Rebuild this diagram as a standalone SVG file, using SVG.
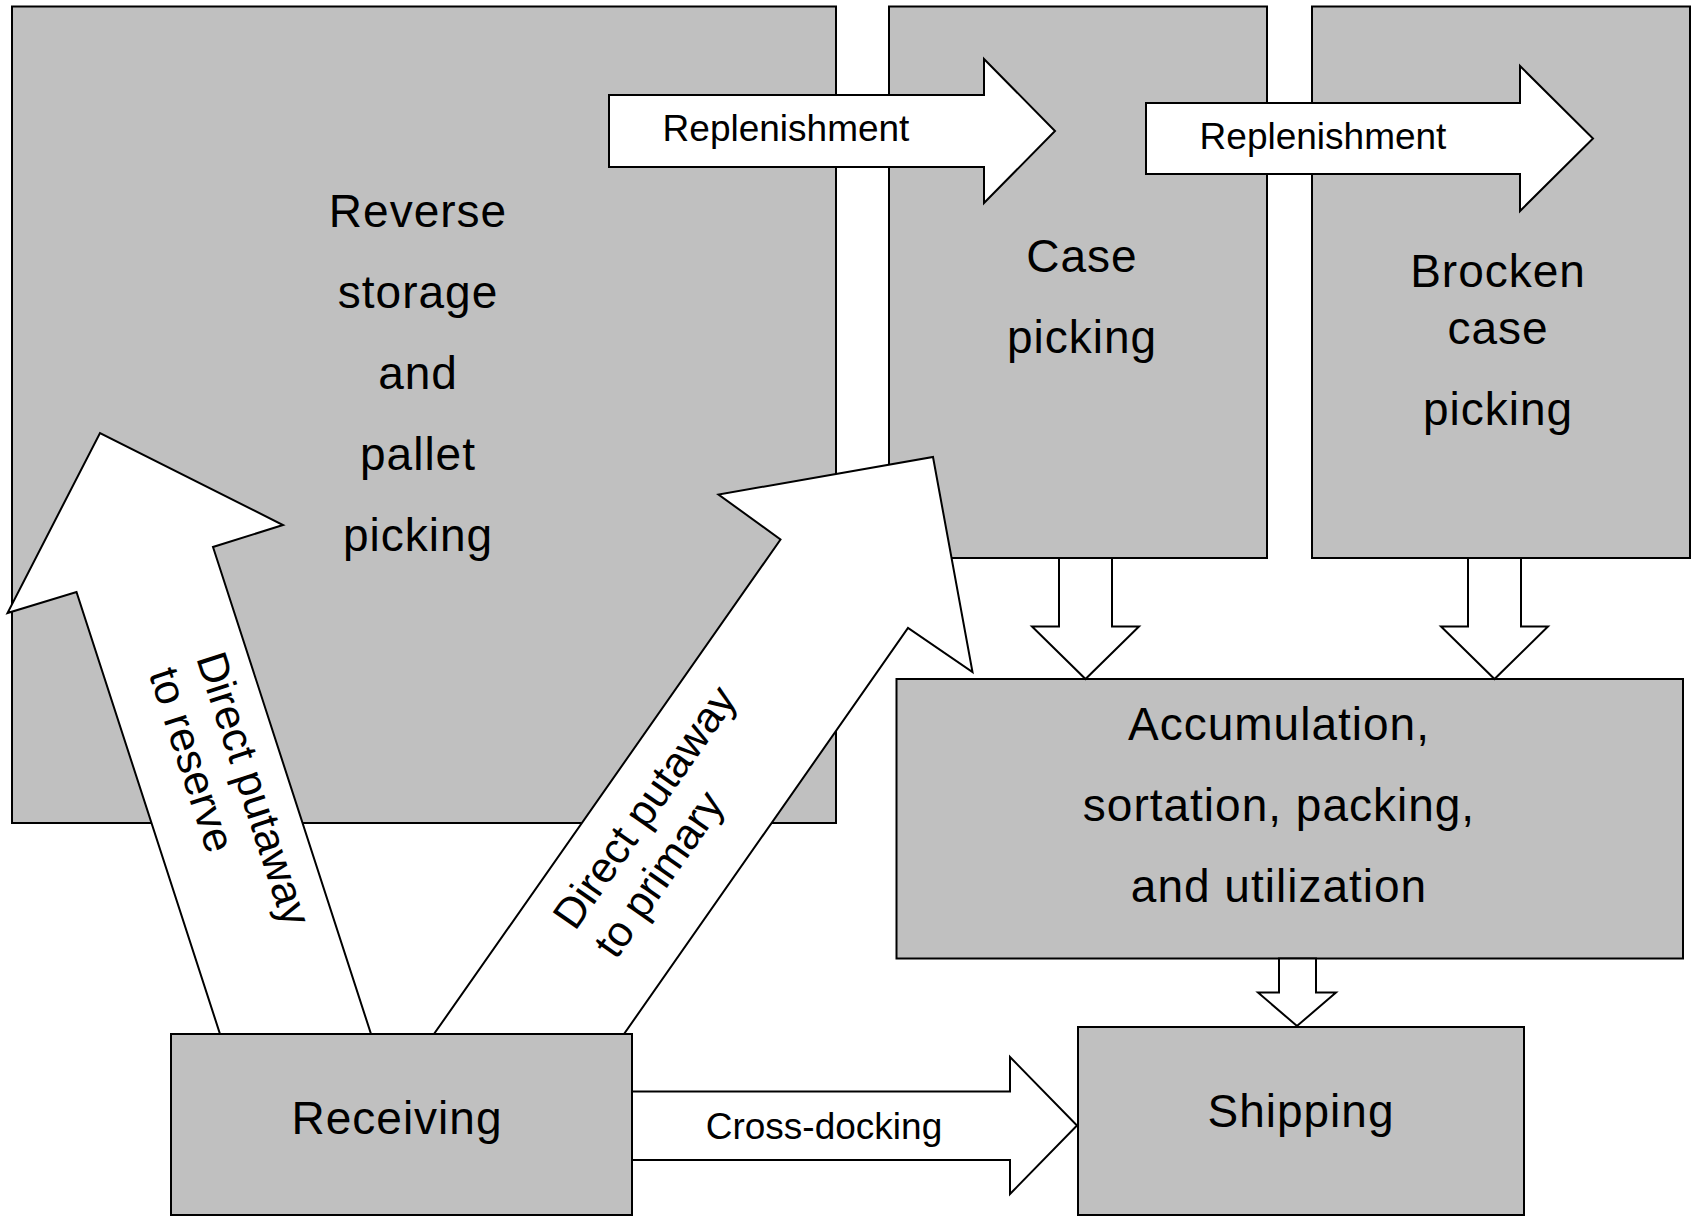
<svg xmlns="http://www.w3.org/2000/svg" width="1698" height="1218" viewBox="0 0 1698 1218">
<style>
.box{fill:#c0c0c0;stroke:#000;stroke-width:2}
.arr{fill:#fff;stroke:#000;stroke-width:2;stroke-linejoin:miter}
.big{font-family:"Liberation Sans",Arial,sans-serif;font-size:46px;letter-spacing:1px;fill:#000;text-anchor:middle}
.sm{font-family:"Liberation Sans",Arial,sans-serif;font-size:37px;fill:#000;text-anchor:middle}
.rot{font-family:"Liberation Sans",Arial,sans-serif;font-size:43px;fill:#000;text-anchor:start}
</style>
<rect width="1698" height="1218" fill="#fff"/>
<g id="reserve-storage">
<rect class="box" x="12" y="6.5" width="824" height="816.5"/>
<text class="big" x="418" y="226.5">Reverse</text>
<text class="big" x="418" y="307.5">storage</text>
<text class="big" x="418" y="388.5">and</text>
<text class="big" x="418" y="469.5">pallet</text>
<text class="big" x="418" y="550.5">picking</text>
</g>
<g id="case-picking">
<rect class="box" x="889" y="6.5" width="378" height="551.5"/>
<text class="big" x="1082" y="272">Case</text>
<text class="big" x="1082" y="352.5">picking</text>
</g>
<g id="broken-case-picking">
<rect class="box" x="1312" y="6.5" width="378" height="551.5"/>
<text class="big" x="1498" y="287">Brocken</text>
<text class="big" x="1498" y="344">case</text>
<text class="big" x="1498" y="425">picking</text>
</g>
<g id="accumulation">
<rect class="box" x="896.5" y="679" width="786.5" height="279.5"/>
<text class="big" x="1279" y="740">Accumulation,</text>
<text class="big" x="1279" y="821">sortation, packing,</text>
<text class="big" x="1279" y="902">and utilization</text>
</g>
<g id="shipping">
<rect class="box" x="1078" y="1027" width="446" height="188"/>
<text class="big" x="1301" y="1127">Shipping</text>
</g>
<g id="receiving">
<rect class="box" x="171" y="1034" width="461" height="181"/>
<text class="big" x="397" y="1134">Receiving</text>
</g>
<g id="connectors">
<polygon class="arr" points="609,95 984,95 984,59 1055,131 984,203 984,167 609,167"/>
<text class="sm" x="786" y="140.7">Replenishment</text>
<polygon class="arr" points="1146,103 1520,103 1520,66 1593,138.5 1520,211 1520,174 1146,174"/>
<text class="sm" x="1323" y="149">Replenishment</text>
<polygon class="arr" points="1059,558 1112,558 1112,626.5 1139,626.5 1085.5,679 1032,626.5 1059,626.5"/>
<polygon class="arr" points="1468,558 1521,558 1521,626.5 1548,626.5 1494.5,679 1441,626.5 1468,626.5"/>
<polygon class="arr" points="1279,958.5 1316,958.5 1316,992.5 1336,992.5 1297,1026 1258,992.5 1279,992.5"/>
<polygon class="arr" points="632,1091.5 1010,1091.5 1010,1057 1077,1125.5 1010,1194 1010,1160 632,1160"/>
<text class="sm" x="824" y="1139">Cross-docking</text>
<polygon class="arr" points="220,1034 371,1034 213,547 283,525 100,433 7.5,613 76.5,592"/>
<g transform="translate(196,658) rotate(72)">
<text class="rot" x="0" y="0">Direct putaway</text>
<text class="rot" x="0" y="50">to reserve</text>
</g>
<polygon class="arr" points="434,1034 624,1034 908,628 972.5,672 933,457 718.5,494.5 780.5,539.5"/>
<g transform="translate(575,932) rotate(-55)">
<text class="rot" x="0" y="0">Direct putaway</text>
<text class="rot" x="0" y="50">to primary</text>
</g>
</g>
</svg>
